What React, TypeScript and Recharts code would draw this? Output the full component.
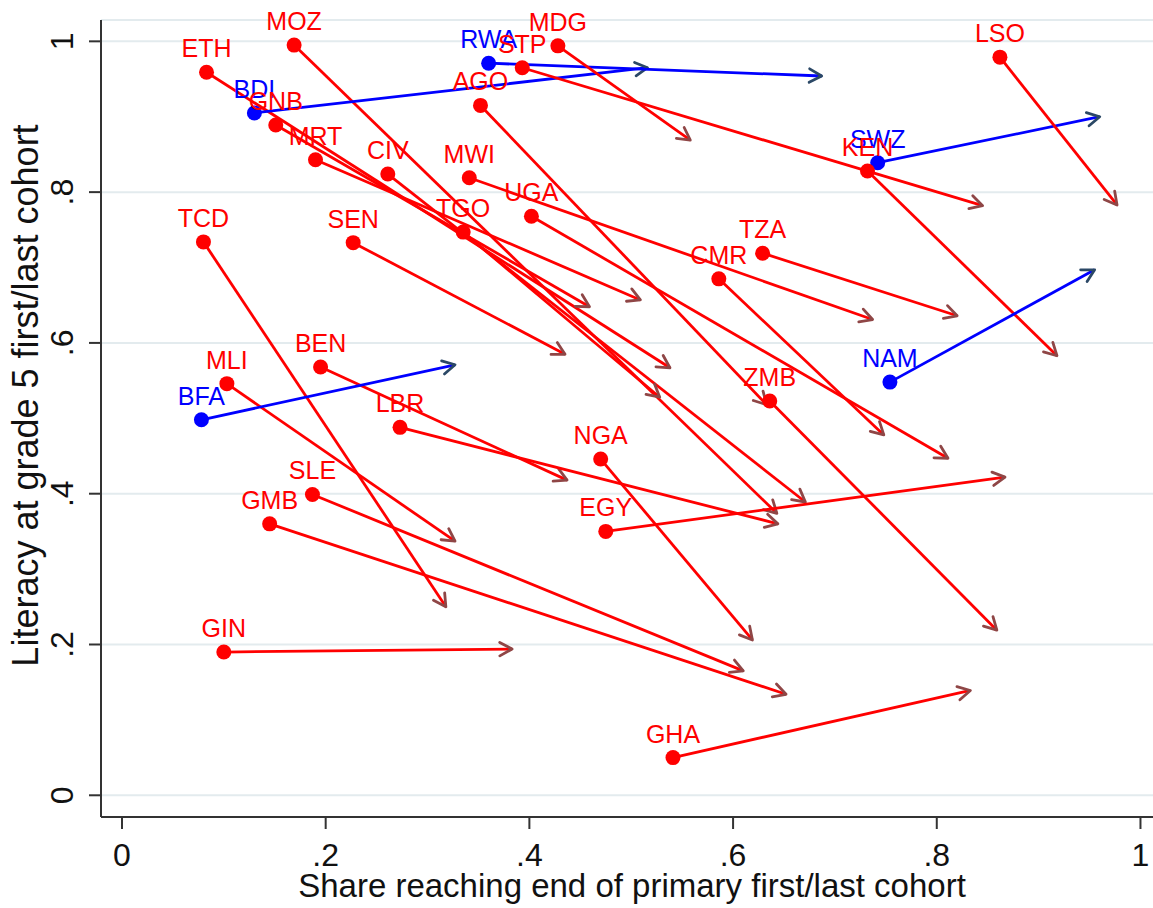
import React from 'react';
import { ScatterChart, Scatter, XAxis, YAxis, ReferenceLine, CartesianGrid, Label } from 'recharts';

// country codes, start (first cohort) and end (last cohort) values
const countries = ['ETH','MOZ','BDI','GNB','MRT','CIV','TGO','TCD','SEN','RWA','STP','MDG','AGO','MWI','UGA','TZA','CMR','SWZ','KEN','LSO','NAM','ZMB','BEN','MLI','BFA','LBR','NGA','SLE','GMB','EGY','GIN','GHA'];
const shareFirst = [0.083,0.169,0.130,0.151,0.190,0.261,0.335,0.080,0.227,0.360,0.393,0.428,0.352,0.341,0.402,0.629,0.586,0.742,0.732,0.862,0.754,0.636,0.195,0.103,0.078,0.273,0.470,0.187,0.145,0.475,0.100,0.541];
const literacyFirst = [0.959,0.995,0.905,0.889,0.843,0.824,0.747,0.734,0.733,0.971,0.965,0.994,0.915,0.819,0.768,0.719,0.685,0.839,0.828,0.979,0.548,0.523,0.568,0.546,0.498,0.488,0.446,0.399,0.360,0.350,0.190,0.050];
const shareLast = [0.538,0.643,0.516,0.459,0.509,0.671,0.528,0.318,0.435,0.687,0.845,0.558,0.633,0.737,0.811,0.820,0.748,0.960,0.918,0.977,0.955,0.859,0.437,0.327,0.327,0.644,0.619,0.610,0.652,0.867,0.383,0.833];
const literacyLast = [0.567,0.374,0.965,0.648,0.657,0.389,0.528,0.250,0.585,0.954,0.782,0.869,0.518,0.631,0.447,0.636,0.478,0.900,0.583,0.783,0.697,0.219,0.418,0.337,0.571,0.360,0.206,0.165,0.134,0.422,0.194,0.139];
const blueCountries = ['BDI','RWA','SWZ','NAM','BFA'];

const xTicks = [0, 0.2, 0.4, 0.6, 0.8, 1];
const yTicks = [0, 0.2, 0.4, 0.6, 0.8, 1];
const xTitle = 'Share reaching end of primary first/last cohort';
const yTitle = 'Literacy at grade 5 first/last cohort';

const FONT = '"Liberation Sans", Arial, sans-serif';
const RED = '#ff0000';
const BLUE = '#0000ff';
const RED_HEAD = '#8f4646';
const BLUE_HEAD = '#2b4866';

const rows = countries.map((c, i) => ({
  name: c,
  x: shareFirst[i],
  y: literacyFirst[i],
  x2: shareLast[i],
  y2: literacyLast[i],
  blue: blueCountries.includes(c),
}));
const blueRows = rows.filter(r => r.blue);
const redRows = rows.filter(r => !r.blue);

const fmt = (v: number) => {
  if (v === 0) return '0';
  if (v === 1) return '1';
  return String(v).replace(/^0/, '');
};

const makeArrow = (lineColor: string, headColor: string) => (props: any) => {
  const { x1, y1, x2, y2 } = props;
  const ang = Math.atan2(y2 - y1, x2 - x1);
  const L = 14;
  const a = 0.5;
  const ax = x2 - L * Math.cos(ang - a);
  const ay = y2 - L * Math.sin(ang - a);
  const bx = x2 - L * Math.cos(ang + a);
  const by = y2 - L * Math.sin(ang + a);
  return (
    <g>
      <line x1={x1} y1={y1} x2={x2} y2={y2} stroke={lineColor} strokeWidth={2.8} />
      <polyline points={`${ax},${ay} ${x2},${y2} ${bx},${by}`} fill="none" stroke={headColor} strokeWidth={2.8} strokeLinecap="round" strokeLinejoin="round" />
    </g>
  );
};

const makeMarker = (color: string) => (props: any) => {
  const { cx, cy, payload } = props;
  return (
    <g>
      <circle cx={cx} cy={cy} r={7.5} fill={color} />
      <text x={cx} y={cy - 15} textAnchor="middle" fill={color} fontSize={25} fontFamily={FONT}>{payload.name}</text>
    </g>
  );
};

const XTick = (props: any) => {
  const { x, y, payload } = props;
  return (
    <text x={x} y={y + 35} textAnchor="middle" fill="#111" fontSize={32} fontFamily={FONT}>{fmt(payload.value)}</text>
  );
};

const YTick = (props: any) => {
  const { x, y, payload } = props;
  const tx = x - 14;
  return (
    <text x={tx} y={y} transform={`rotate(-90, ${tx}, ${y})`} textAnchor="middle" fill="#111" fontSize={32} fontFamily={FONT}>{fmt(payload.value)}</text>
  );
};

const XTitle = (props: any) => {
  const vb = props.viewBox || { x: 101, y: 817, width: 1052, height: 91 };
  const cx = vb.x + vb.width / 2 + 5;
  return <text x={cx} y={vb.y + 80} textAnchor="middle" fill="#111" fontSize={33} fontFamily={FONT}>{xTitle}</text>;
};

const YTitle = (props: any) => {
  const vb = props.viewBox || { x: 0, y: 20, width: 101, height: 797 };
  const tx = vb.x + 38;
  const ty = vb.y + vb.height / 2 - 23;
  return <text x={tx} y={ty} transform={`rotate(-90, ${tx}, ${ty})`} textAnchor="middle" fill="#111" fontSize={36} fontFamily={FONT}>{yTitle}</text>;
};

export default function App() {
  return (
    <div style={{ position: 'absolute', left: 0, top: 0, width: 1153, height: 908, background: '#fff' }}>
      <ScatterChart width={1153} height={908} margin={{ top: 20, right: 0, bottom: 0, left: 0 }}>
        <CartesianGrid horizontal={true} vertical={false} stroke="#e3ebee" strokeWidth={2} />
        <XAxis
          type="number"
          dataKey="x"
          domain={[-0.0206, 1.0123]}
          ticks={xTicks}
          height={91}
          tickSize={12}
          tick={<XTick />}
          axisLine={{ stroke: '#333', strokeWidth: 2 }}
          tickLine={{ stroke: '#333', strokeWidth: 2 }}
        >
          <Label content={<XTitle />} />
        </XAxis>
        <YAxis
          type="number"
          dataKey="y"
          domain={[-0.0288, 1.0283]}
          ticks={yTicks}
          width={101}
          tickSize={12}
          tick={<YTick />}
          axisLine={{ stroke: '#333', strokeWidth: 2 }}
          tickLine={{ stroke: '#333', strokeWidth: 2 }}
        >
          <Label content={<YTitle />} />
        </YAxis>
        {rows.map(r => (
          <ReferenceLine
            key={'a' + r.name}
            segment={[{ x: r.x, y: r.y }, { x: r.x2, y: r.y2 }]}
            shape={makeArrow(r.blue ? BLUE : RED, r.blue ? BLUE_HEAD : RED_HEAD)}
          />
        ))}
        <Scatter data={blueRows} isAnimationActive={false} shape={makeMarker(BLUE)} />
        <Scatter data={redRows} isAnimationActive={false} shape={makeMarker(RED)} />
      </ScatterChart>
    </div>
  );
}
